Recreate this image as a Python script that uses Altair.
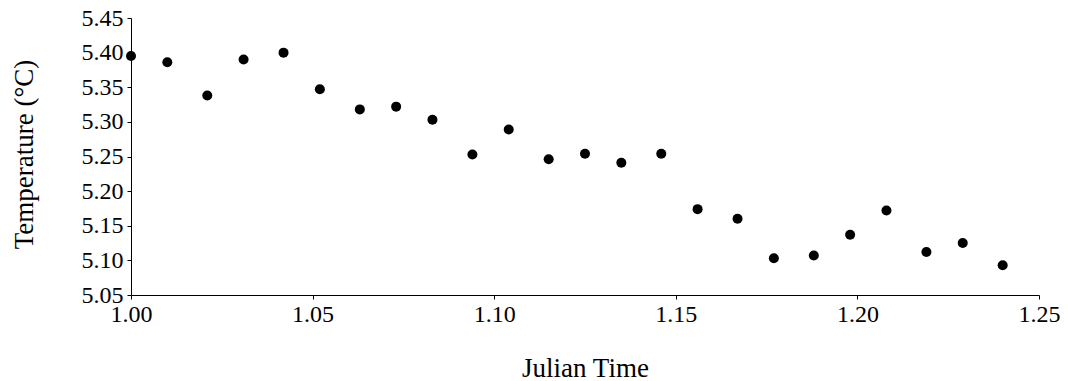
import altair as alt
import pandas as pd

julian_time = [1.000, 1.010, 1.021, 1.031, 1.042, 1.052, 1.063, 1.073,
               1.083, 1.094, 1.104, 1.115, 1.125, 1.135, 1.146, 1.156,
               1.167, 1.177, 1.188, 1.198, 1.208, 1.219, 1.229, 1.240]
temperature = [5.395, 5.386, 5.338, 5.390, 5.400, 5.347, 5.318, 5.322,
               5.303, 5.253, 5.289, 5.246, 5.254, 5.241, 5.254, 5.174,
               5.160, 5.103, 5.107, 5.137, 5.172, 5.112, 5.125, 5.093]
x_ticks = [1.00, 1.05, 1.10, 1.15, 1.20, 1.25]
y_ticks = [5.05, 5.10, 5.15, 5.20, 5.25, 5.30, 5.35, 5.40, 5.45]

df = pd.DataFrame({"t": julian_time, "temp": temperature})

FONT = "Liberation Serif, 'Times New Roman', serif"

chart = alt.Chart(df).mark_circle(size=100, color="black", opacity=1).encode(
    x=alt.X("t:Q",
            scale=alt.Scale(domain=[1.0, 1.25], nice=False, zero=False),
            axis=alt.Axis(values=x_ticks, format=".2f", title="Julian Time",
                          grid=False, tickSize=4, labelPadding=3,
                          labelFont=FONT, labelFontSize=24, labelColor="black",
                          titleFont=FONT, titleFontSize=27, titleFontWeight="normal",
                          titleColor="black", titleY=81, titleBaseline="alphabetic",
                          domainColor="black", tickColor="black",
                          labelFlush=False, labelOverlap=False)),
    y=alt.Y("temp:Q",
            scale=alt.Scale(domain=[5.05, 5.45], nice=False, zero=False),
            axis=alt.Axis(values=y_ticks, format=".2f", title="Temperature (°C)",
                          grid=False, tickSize=4, labelPadding=4,
                          labelFont=FONT, labelFontSize=24, labelColor="black",
                          titleFont=FONT, titleFontSize=27, titleFontWeight="normal",
                          titleColor="black", titleX=-99, titleY=136,
                          titleAngle=270, titleAlign="center",
                          titleBaseline="alphabetic",
                          domainColor="black", tickColor="black",
                          labelFlush=False, labelOverlap=False)),
).properties(
    width=908, height=277,
    autosize=alt.AutoSizeParams(type="none"),
    padding={"left": 131, "top": 18, "right": 29, "bottom": 86},
    background="white",
).configure_view(stroke=None)

chart.save("out.html", embed_options={"renderer": "svg", "actions": False})
